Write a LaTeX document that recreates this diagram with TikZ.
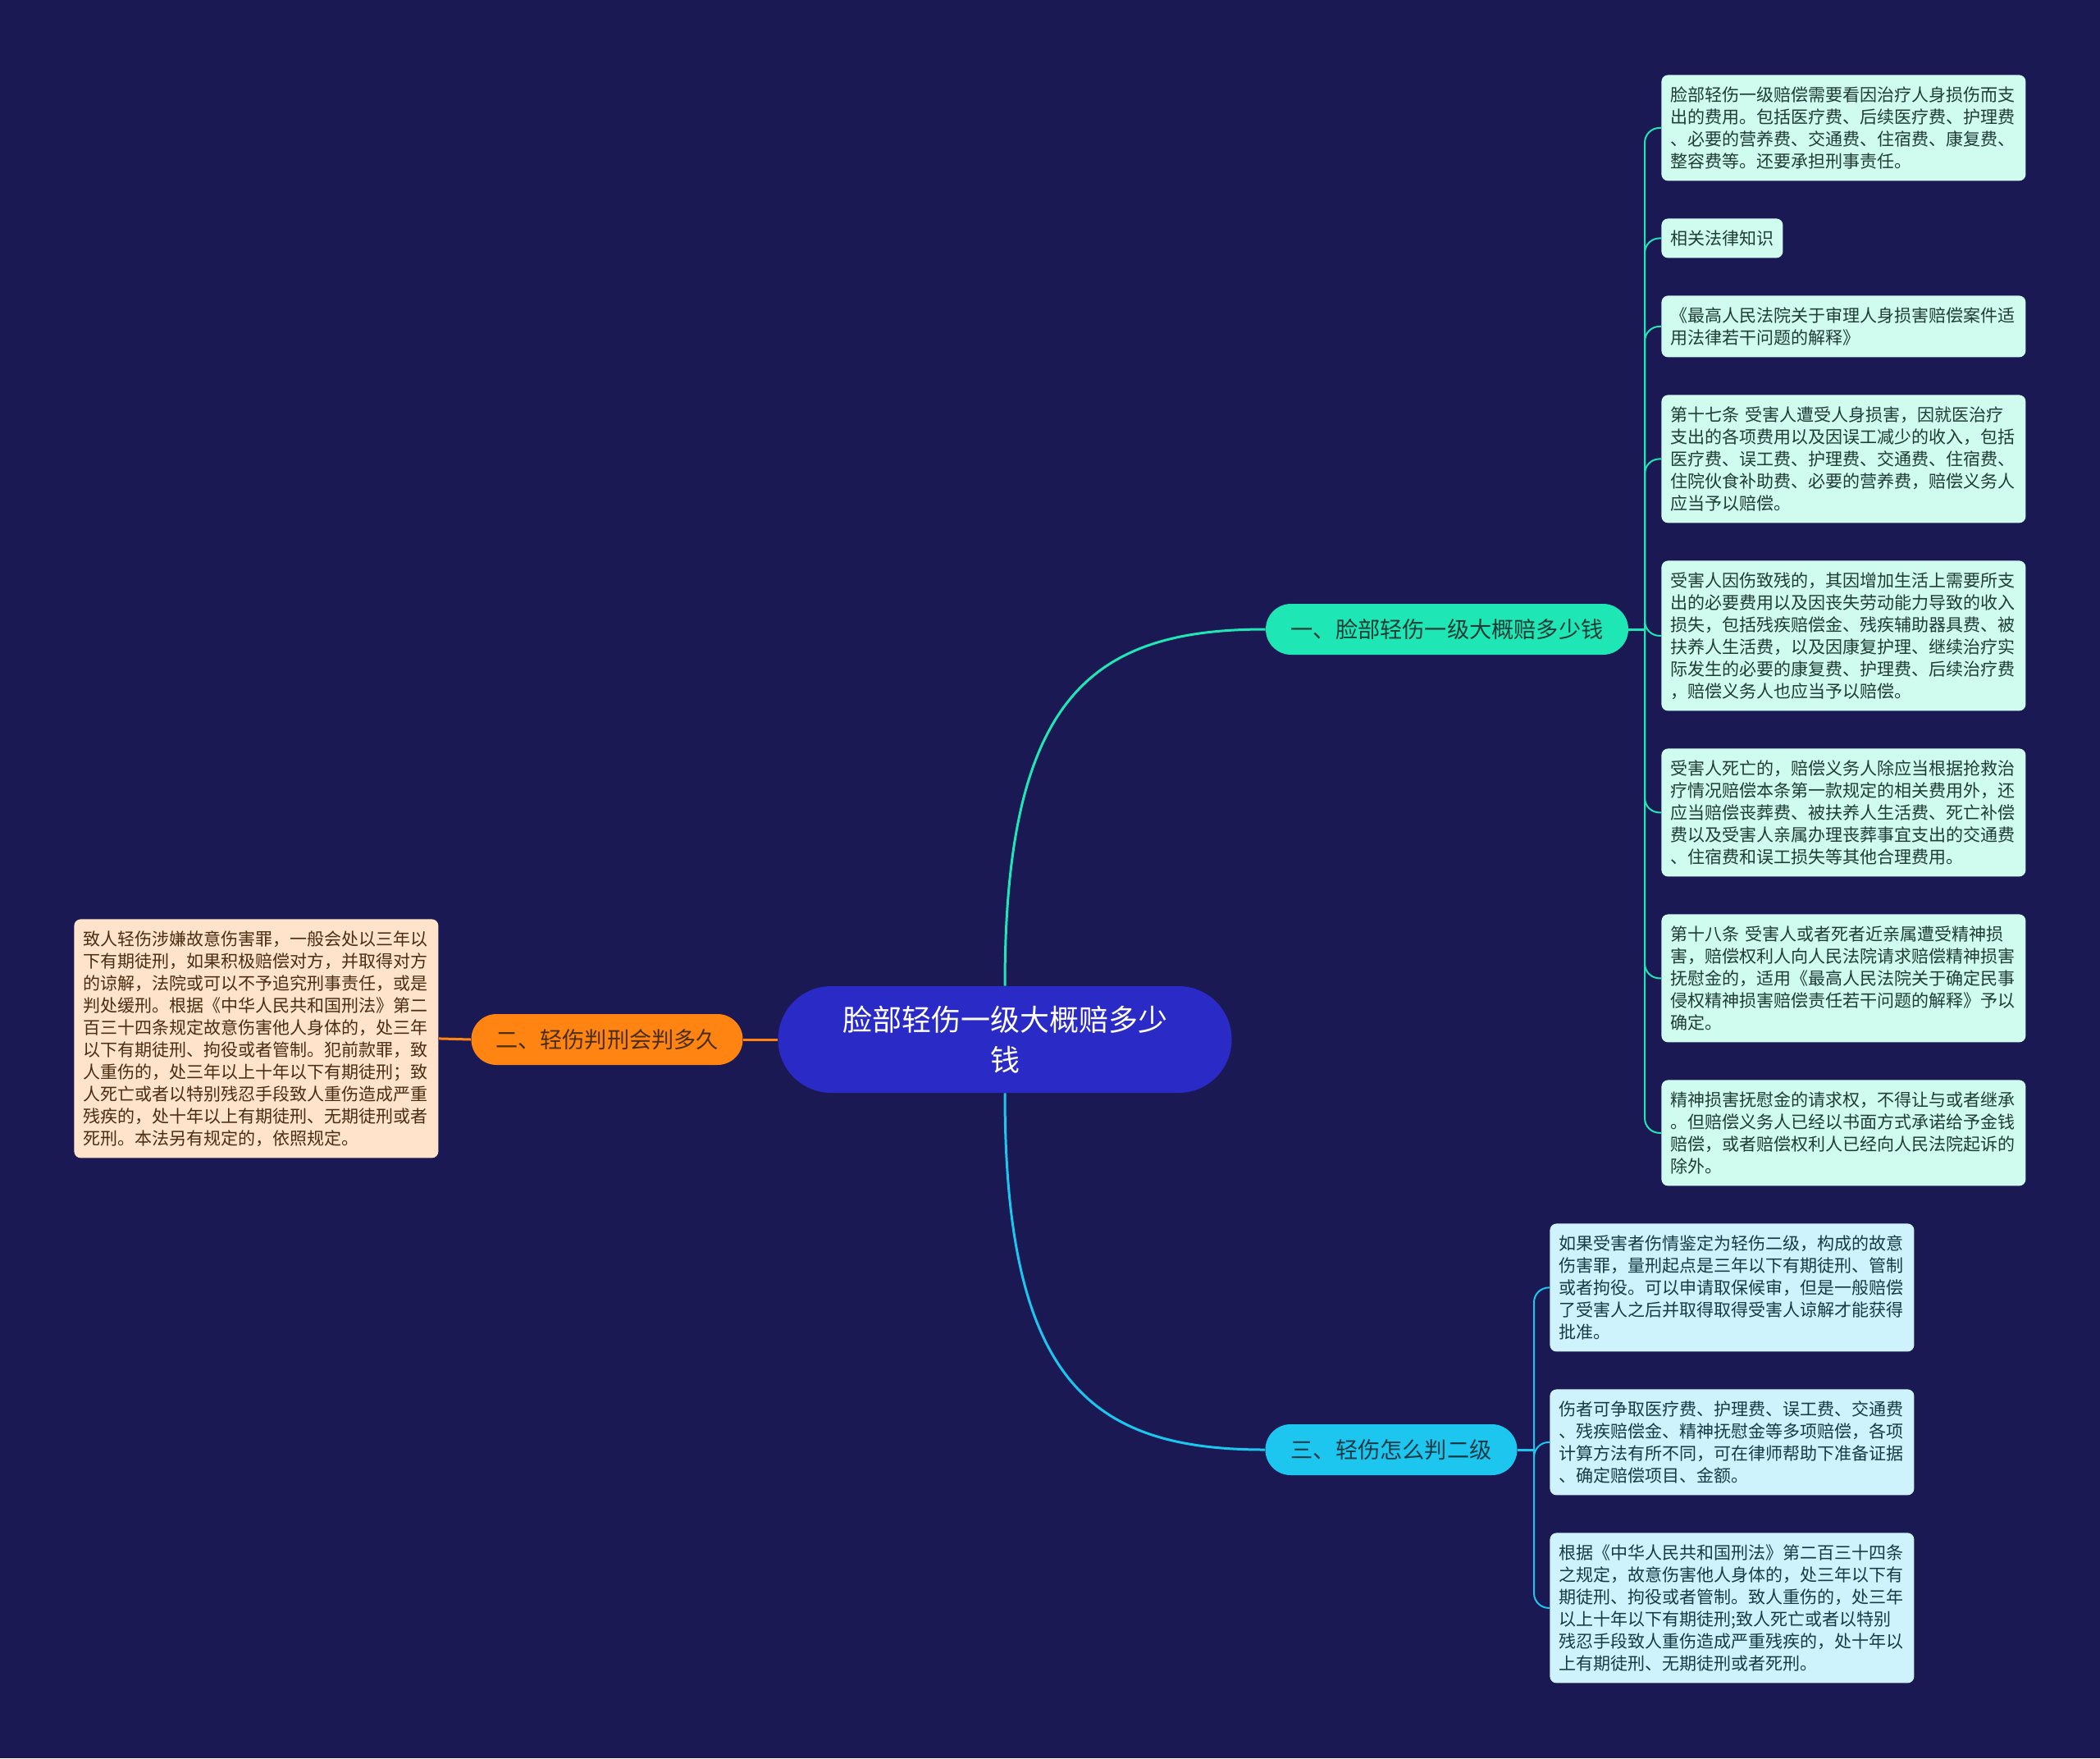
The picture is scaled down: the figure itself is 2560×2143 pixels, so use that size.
\documentclass[tikz,border=0pt]{standalone}
\usepackage{fontspec}
\setmainfont{Noto Sans CJK SC}
\definecolor{bg}{HTML}{1B1953}
\definecolor{cfill}{HTML}{2A2AC6}
\definecolor{gA}{HTML}{1EE6B4}
\definecolor{oA}{HTML}{FF8412}
\definecolor{cA}{HTML}{1CC6EE}
\definecolor{gL}{HTML}{D0FBEF}
\definecolor{cL}{HTML}{CFF3FC}
\definecolor{oL}{HTML}{FFE4CB}
\definecolor{gT}{HTML}{1F3C37}
\definecolor{cT}{HTML}{173A47}
\definecolor{oT}{HTML}{4A2E12}
\tikzset{
  leafbox/.style={anchor=north west, rounded corners=4pt, inner xsep=5.5pt, inner ysep=2pt,
    align=left, text width=211pt, font=\fontsize{10.5pt}{13.5pt}\selectfont,
    minimum height={(13.5*#1+10.5)*1pt}},
  gleaf/.style={leafbox=#1, fill=gL, text=gT},
  cleaf/.style={leafbox=#1, fill=cL, text=cT},
  oleaf/.style={leafbox=#1, fill=oL, text=oT},
  branchbox/.style={rounded corners=15.4pt, minimum height=31pt, inner sep=0pt,
    font=\fontsize{13.6pt}{16pt}\selectfont},
  rootbox/.style={rounded corners=32.4pt, minimum width=276.5pt, minimum height=65pt,
    inner sep=0pt, align=center, text=white, fill=cfill,
    font=\fontsize{18pt}{24.5pt}\selectfont},
  gline/.style={draw=gA, line width=1.5pt},
  oline/.style={draw=oA, line width=1.5pt},
  cline/.style={draw=cA, line width=1.5pt},
  gsub/.style={draw=gA, line width=1pt, rounded corners=9pt},
  csub/.style={draw=cA, line width=1pt, rounded corners=9pt},
}
\begin{document}
\begin{tikzpicture}[x=0.5pt,y=-0.5pt]
\fill[bg] (0,0) rectangle (2560,2143);
\useasboundingbox (0,0) rectangle (2560,2143);

% root
\node[rootbox] (root) at (1225,1267) {脸部轻伤一级大概赔多少\\钱};

% branches
\node[branchbox, fill=gA, text=gT, minimum width=221pt] (b1) at (1764,767) {一、脸部轻伤一级大概赔多少钱};
\node[branchbox, fill=oA, text=oT, minimum width=165.5pt] (b2) at (740,1267) {二、轻伤判刑会判多久};
\node[branchbox, fill=cA, text=cT, minimum width=153.5pt] (b3) at (1696,1767) {三、轻伤怎么判二级};

% branch 1 leaves
\node[gleaf=4] (g1) at (2025,91) {脸部轻伤一级赔偿需要看因治疗人身损伤而支\\出的费用。包括医疗费、后续医疗费、护理费\\、必要的营养费、交通费、住宿费、康复费、\\整容费等。还要承担刑事责任。};
\node[gleaf=1, text width=63pt] (g2) at (2025,266) {相关法律知识};
\node[gleaf=2] (g3) at (2025,360) {《最高人民法院关于审理人身损害赔偿案件适\\用法律若干问题的解释》};
\node[gleaf=5] (g4) at (2025,481) {第十七条 受害人遭受人身损害，因就医治疗\\支出的各项费用以及因误工减少的收入，包括\\医疗费、误工费、护理费、交通费、住宿费、\\住院伙食补助费、必要的营养费，赔偿义务人\\应当予以赔偿。};
\node[gleaf=6] (g5) at (2025,683) {受害人因伤致残的，其因增加生活上需要所支\\出的必要费用以及因丧失劳动能力导致的收入\\损失，包括残疾赔偿金、残疾辅助器具费、被\\扶养人生活费，以及因康复护理、继续治疗实\\际发生的必要的康复费、护理费、后续治疗费\\，赔偿义务人也应当予以赔偿。};
\node[gleaf=5] (g6) at (2025,912) {受害人死亡的，赔偿义务人除应当根据抢救治\\疗情况赔偿本条第一款规定的相关费用外，还\\应当赔偿丧葬费、被扶养人生活费、死亡补偿\\费以及受害人亲属办理丧葬事宜支出的交通费\\、住宿费和误工损失等其他合理费用。};
\node[gleaf=5] (g7) at (2025,1114) {第十八条 受害人或者死者近亲属遭受精神损\\害，赔偿权利人向人民法院请求赔偿精神损害\\抚慰金的，适用《最高人民法院关于确定民事\\侵权精神损害赔偿责任若干问题的解释》予以\\确定。};
\node[gleaf=4] (g8) at (2025,1316) {精神损害抚慰金的请求权，不得让与或者继承\\。但赔偿义务人已经以书面方式承诺给予金钱\\赔偿，或者赔偿权利人已经向人民法院起诉的\\除外。};

% branch 2 leaf
\node[oleaf=10] (o1) at (90,1120) {致人轻伤涉嫌故意伤害罪，一般会处以三年以\\下有期徒刑，如果积极赔偿对方，并取得对方\\的谅解，法院或可以不予追究刑事责任，或是\\判处缓刑。根据《中华人民共和国刑法》第二\\百三十四条规定故意伤害他人身体的，处三年\\以下有期徒刑、拘役或者管制。犯前款罪，致\\人重伤的，处三年以上十年以下有期徒刑；致\\人死亡或者以特别残忍手段致人重伤造成严重\\残疾的，处十年以上有期徒刑、无期徒刑或者\\死刑。本法另有规定的，依照规定。};

% branch 3 leaves
\node[cleaf=5] (c1) at (1889,1491) {如果受害者伤情鉴定为轻伤二级，构成的故意\\伤害罪，量刑起点是三年以下有期徒刑、管制\\或者拘役。可以申请取保候审，但是一般赔偿\\了受害人之后并取得取得受害人谅解才能获得\\批准。};
\node[cleaf=4] (c2) at (1889,1693) {伤者可争取医疗费、护理费、误工费、交通费\\、残疾赔偿金、精神抚慰金等多项赔偿，各项\\计算方法有所不同，可在律师帮助下准备证据\\、确定赔偿项目、金额。};
\node[cleaf=6] (c3) at (1889,1868) {根据《中华人民共和国刑法》第二百三十四条\\之规定，故意伤害他人身体的，处三年以下有\\期徒刑、拘役或者管制。致人重伤的，处三年\\以上十年以下有期徒刑;致人死亡或者以特别\\残忍手段致人重伤造成严重残疾的，处十年以\\上有期徒刑、无期徒刑或者死刑。};

% main connectors
\draw[gline] (root.north) .. controls (1225,850) and (1330,767) .. (b1.west);
\draw[cline] (root.south) .. controls (1225,1684) and (1330,1767) .. (b3.west);
\draw[oline] (root.west) -- (b2.east);
\draw[oline] (b2.west) -- (o1.east);

% branch 1 to leaves
\coordinate (t1) at (2005,767);
\draw[gline] (b1.east) -- (t1);
\foreach \n in {g1,g2,g3,g4,g5,g6,g7,g8}
  \draw[gsub] (t1) |- (\n.west);

% branch 3 to leaves
\coordinate (t3) at (1870,1767);
\draw[cline] (b3.east) -- (t3);
\foreach \n in {c1,c2,c3}
  \draw[csub] (t3) |- (\n.west);
\end{tikzpicture}
\end{document}
